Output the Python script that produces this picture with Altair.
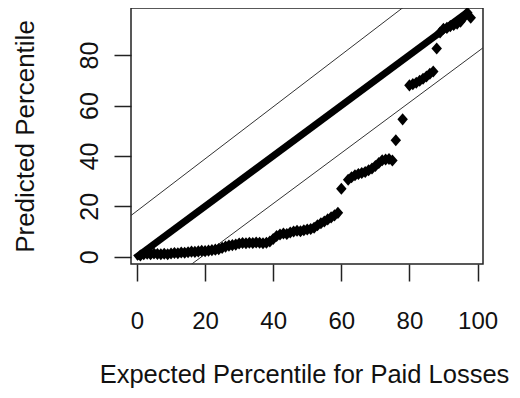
import altair as alt
import pandas as pd

# Lower point series (expected percentile vs predicted percentile)
exp_pct = [1, 2, 3, 4, 5, 6, 7, 8, 9, 10, 11, 12, 13, 14, 15, 16, 17, 18, 19, 20,
           21, 22, 23, 24, 25, 26, 27, 28, 29, 30, 31, 32, 33, 34, 35, 36, 37, 38, 39, 40,
           41, 42, 43, 44, 45, 46, 47, 48, 49, 50, 51, 52, 53, 54, 55, 56, 57, 58, 59,
           60, 62, 63, 64, 65, 66, 67, 68, 69, 70, 71, 72, 73, 74, 75,
           76, 78, 80, 81, 82, 83, 84, 85, 86, 87, 88,
           89, 90, 91, 92, 93, 94, 95, 96, 97, 98]
pred_pct = [0.5, 1.0, 1.2, 1.0, 1.3, 1.1, 1.0, 1.2, 1.0, 1.3, 1.5, 1.4, 1.7, 1.6, 1.8, 2.0, 1.9, 2.1, 2.3, 2.2,
            2.4, 2.6, 2.8, 3.0, 3.5, 4.0, 4.4, 4.6, 4.8, 5.2, 5.4, 5.3, 5.5, 5.4, 5.6, 5.5, 5.3, 5.5, 6.0, 7.0,
            8.2, 8.8, 9.2, 9.0, 9.6, 10.0, 10.3, 10.1, 10.5, 10.8, 11.0, 11.5, 12.5, 13.3, 14.0, 14.8, 15.6, 16.4, 17.4,
            27.0, 30.5, 31.5, 32.3, 32.8, 33.2, 33.6, 34.3, 35.0, 36.0, 37.2, 38.3, 38.6, 38.8, 38.2,
            46.2, 54.5, 68.0, 68.5, 69.0, 69.8, 70.6, 71.5, 72.6, 73.5, 82.6,
            89.0, 90.5, 90.8, 91.5, 92.0, 92.5, 93.3, 95.0, 96.8, 94.8]

# Reference lines (endpoints)
diag_x = [-0.5, 97.0]
diag_y = [-0.5, 97.0]
upper_x = [-2.0, 82.0]
upper_y = [16.1, 102.9]
lower_x = [14.0, 103.0]
lower_y = [-5.0, 84.3]

x_ticks = [0, 20, 40, 60, 80, 100]
y_ticks = [0, 20, 40, 60, 80]

pts = pd.DataFrame({"x": exp_pct, "y": pred_pct})
diag = pd.DataFrame({"x": diag_x, "y": diag_y})
upper = pd.DataFrame({"x": upper_x, "y": upper_y})
lower = pd.DataFrame({"x": lower_x, "y": lower_y})

FONT = "Liberation Sans"
TXT = "#111111"

x_axis = alt.Axis(values=x_ticks, domain=False, grid=False, ticks=True, tickSize=17,
                  tickWidth=1.5, tickColor="#222222", labelFont=FONT, labelFontSize=24,
                  labelColor=TXT, labelPadding=47, labelBaseline="alphabetic",
                  labelAlign="center", labelFlush=False, labelOverlap=False,
                  title="Expected Percentile for Paid Losses", titleFont=FONT,
                  titleFontSize=25.5, titleFontWeight="normal", titleColor=TXT,
                  titleX=173, titleY=118, titleBaseline="alphabetic", titleAlign="center",
                  titleLimit=600)
y_axis = alt.Axis(values=y_ticks, domain=False, grid=False, ticks=True, tickSize=17,
                  tickWidth=1.5, tickColor="#222222", labelFont=FONT, labelFontSize=25,
                  labelColor=TXT, labelPadding=17, labelAngle=270, labelAlign="center",
                  labelBaseline="alphabetic", labelFlush=False, labelOverlap=False,
                  title="Predicted Percentile", titleFont=FONT, titleFontSize=26,
                  titleFontWeight="normal", titleColor=TXT, titleAngle=270,
                  titleX=-98, titleY=128, titleBaseline="alphabetic", titleAlign="center")

xs = alt.Scale(domain=[-1.76, 101.6], nice=False, zero=False)
ys = alt.Scale(domain=[-2.9, 98.7], nice=False, zero=False)

X = alt.X("x:Q", scale=xs, axis=x_axis)
Y = alt.Y("y:Q", scale=ys, axis=y_axis)

DIAMOND = "M-1,0L0,-1.15L1,0L0,1.15Z"

thin_up = alt.Chart(upper).mark_line(color="#333333", strokeWidth=1, clip=True).encode(x=X, y=Y)
thin_lo = alt.Chart(lower).mark_line(color="#333333", strokeWidth=1, clip=True).encode(x=X, y=Y)
thick = alt.Chart(diag).mark_line(color="black", strokeWidth=7, clip=True).encode(x=X, y=Y)
points = alt.Chart(pts).mark_point(shape=DIAMOND, filled=True, size=110, color="black",
                                   opacity=1, clip=True).encode(x=X, y=Y)

chart = alt.layer(thin_up, thin_lo, thick, points).properties(
    width=352, height=256,
    autosize=alt.AutoSizeParams(type="none"),
    padding={"left": 123, "top": 0, "right": 29, "bottom": 124},
    background="white",
).configure_view(stroke="#222222", strokeWidth=1.5)

chart.save("out.html", embed_options={"renderer": "svg", "actions": False})
